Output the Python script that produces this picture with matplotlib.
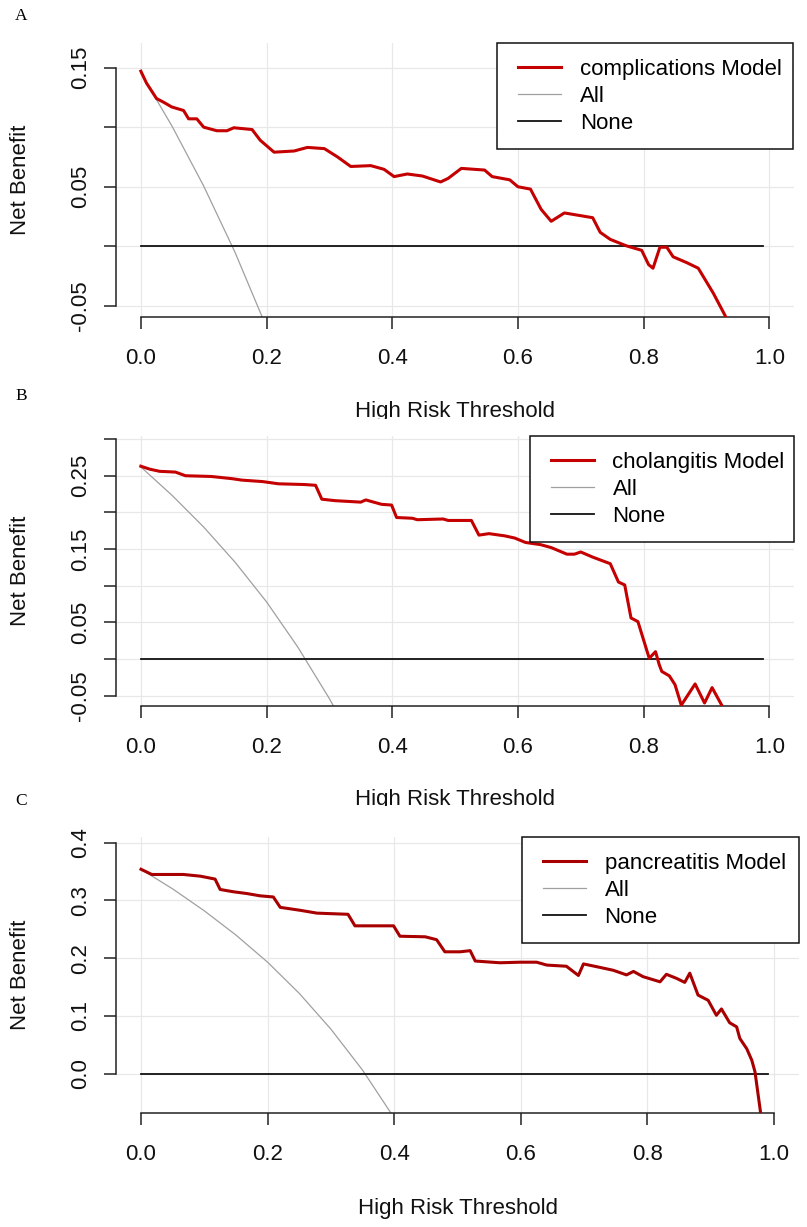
import matplotlib.pyplot as plt
from matplotlib.lines import Line2D
from matplotlib.legend_handler import HandlerLine2D
from matplotlib.transforms import Bbox

plt.rcParams['font.family'] = ['Liberation Sans', 'DejaVu Sans']

# ---- data ----
# A: complications
a_t  = [0.000, 0.009, 0.025, 0.036, 0.049, 0.068, 0.076, 0.089, 0.100, 0.121,
        0.137, 0.148, 0.177, 0.190, 0.212, 0.244, 0.265, 0.292, 0.313, 0.334,
        0.366, 0.387, 0.403, 0.424, 0.448, 0.477, 0.489, 0.510, 0.547, 0.559,
        0.587, 0.600, 0.620, 0.637, 0.653, 0.674, 0.719, 0.731, 0.747, 0.772,
        0.797, 0.808, 0.815, 0.826, 0.837, 0.847, 0.869, 0.887, 0.911, 0.930, 0.936]
a_nb = [0.147, 0.137, 0.124, 0.121, 0.117, 0.114, 0.107, 0.107, 0.100, 0.097,
        0.097, 0.0995, 0.098, 0.089, 0.079, 0.080, 0.083, 0.082, 0.075, 0.067,
        0.0677, 0.0646, 0.0585, 0.0607, 0.059, 0.054, 0.057, 0.0654, 0.064, 0.0585,
        0.0558, 0.050, 0.048, 0.031, 0.021, 0.028, 0.024, 0.0117, 0.0058, 0.0005,
        -0.0034, -0.0154, -0.0184, -0.0008, -0.0008, -0.0088, -0.0138, -0.0184, -0.0394, -0.0584, -0.070]
a_all_t = [0.00, 0.05, 0.10, 0.15, 0.20]
a_all   = [0.1455, 0.1005, 0.0506, -0.0052, -0.068]

# B: cholangitis
b_t  = [0.000, 0.014, 0.030, 0.055, 0.071, 0.112, 0.145, 0.161, 0.194, 0.219,
        0.260, 0.278, 0.288, 0.309, 0.350, 0.358, 0.383, 0.399, 0.407, 0.432,
        0.440, 0.481, 0.489, 0.526, 0.538, 0.554, 0.579, 0.595, 0.612, 0.636,
        0.653, 0.678, 0.690, 0.700, 0.719, 0.747, 0.760, 0.770, 0.780, 0.791,
        0.809, 0.819, 0.825, 0.829, 0.841, 0.850, 0.860, 0.882, 0.897, 0.909, 0.925]
b_nb = [0.263, 0.259, 0.256, 0.255, 0.250, 0.249, 0.246, 0.244, 0.242, 0.239,
        0.238, 0.237, 0.218, 0.216, 0.214, 0.217, 0.211, 0.210, 0.193, 0.192,
        0.190, 0.191, 0.189, 0.189, 0.169, 0.171, 0.168, 0.165, 0.159, 0.156,
        0.152, 0.143, 0.143, 0.146, 0.139, 0.130, 0.105, 0.101, 0.056, 0.051,
        0.001, 0.010, -0.008, -0.017, -0.023, -0.035, -0.063, -0.034, -0.060, -0.039, -0.064]
b_all_t = [0.00, 0.05, 0.10, 0.15, 0.20, 0.25, 0.30, 0.32]
b_all   = [0.262, 0.223, 0.180, 0.132, 0.078, 0.016, -0.054, -0.085]

# C: pancreatitis
c_t  = [0.000, 0.017, 0.067, 0.094, 0.117, 0.125, 0.146, 0.167, 0.188, 0.209,
        0.220, 0.251, 0.278, 0.327, 0.338, 0.399, 0.409, 0.449, 0.467, 0.480,
        0.504, 0.520, 0.528, 0.567, 0.599, 0.625, 0.641, 0.672, 0.691, 0.699,
        0.725, 0.746, 0.767, 0.778, 0.793, 0.820, 0.830, 0.846, 0.859, 0.867,
        0.880, 0.896, 0.909, 0.917, 0.930, 0.941, 0.946, 0.957, 0.965, 0.970,
        0.974, 0.979]
c_nb = [0.354, 0.345, 0.345, 0.342, 0.337, 0.319, 0.315, 0.312, 0.308, 0.306,
        0.288, 0.283, 0.278, 0.276, 0.256, 0.256, 0.238, 0.237, 0.232, 0.211,
        0.211, 0.213, 0.195, 0.192, 0.193, 0.193, 0.188, 0.186, 0.170, 0.190,
        0.184, 0.179, 0.171, 0.177, 0.168, 0.159, 0.172, 0.165, 0.158, 0.174,
        0.136, 0.127, 0.101, 0.112, 0.088, 0.081, 0.061, 0.043, 0.023, 0.003,
        -0.029, -0.069]
c_all_t = [0.00, 0.05, 0.10, 0.15, 0.20, 0.25, 0.30, 0.35, 0.40]
c_all   = [0.354, 0.320, 0.282, 0.240, 0.193, 0.139, 0.077, 0.006, -0.077]

none_t = [0.0, 0.99]
none_nb = [0.0, 0.0]

x_ticks = [0.0, 0.2, 0.4, 0.6, 0.8, 1.0]
x_labels = ['0.0', '0.2', '0.4', '0.6', '0.8', '1.0']

a_yticks = [-0.05, 0.0, 0.05, 0.10, 0.15]
a_ylabels = ['-0.05', '', '0.05', '', '0.15']
b_yticks = [-0.05, 0.0, 0.05, 0.10, 0.15, 0.20, 0.25, 0.30]
b_ylabels = ['-0.05', '', '0.05', '', '0.15', '', '0.25', '']
c_yticks = [0.0, 0.1, 0.2, 0.3, 0.4]
c_ylabels = ['0.0', '0.1', '0.2', '0.3', '0.4']

# ---- layout (pixels, origin top-left) ----
W, H = 807, 1227
fig = plt.figure(figsize=(W / 100, H / 100), dpi=100)


def rect(x0, y0, x1, y1):
    return [x0 / W, 1 - y1 / H, (x1 - x0) / W, (y1 - y0) / H]


def panel(box, ylim, yticks, ylabels, t, nb, t_all, nb_all, red, name,
          leg, letter, letter_y, xlab_y, clip_y):
    ax = fig.add_axes(rect(*box))
    ax.plot(t, nb, color=red, lw=2.2, label=name, zorder=3)
    ax.plot(t_all, nb_all, color='#a0a0a0', lw=0.9, label='All', zorder=2)
    ax.plot(none_t, none_nb, color='#111111', lw=1.3, label='None', zorder=2)
    ax.set_xlim(-0.04, 1.04)
    ax.set_ylim(*ylim)
    ax.set_xticks(x_ticks)
    ax.set_xticklabels(x_labels)
    ax.set_yticks(yticks)
    ax.set_yticklabels(ylabels)
    plt.setp(ax.get_yticklabels(), va='center')
    ax.grid(True, color='#e8e8e8', lw=0.9)
    ax.set_axisbelow(True)
    for s in ['top', 'right']:
        ax.spines[s].set_visible(False)
    ax.spines['left'].set_bounds(yticks[0], yticks[-1])
    ax.spines['bottom'].set_bounds(0, 1)
    for s in ['left', 'bottom']:
        ax.spines[s].set_linewidth(1.1)
        ax.spines[s].set_color('#222222')
    ax.tick_params(direction='out', length=8.6, width=1.1, color='#222222',
                   labelsize=16, labelcolor='#111111')
    ax.tick_params(axis='x', pad=14)
    ax.tick_params(axis='y', pad=9, labelrotation=90)

    lg = ax.legend(loc='upper left', mode='expand', borderaxespad=0,
                   bbox_to_anchor=(leg[0] / W, 1 - leg[2] / H, (leg[1] - leg[0]) / W, 0),
                   bbox_transform=fig.transFigure, fontsize=16, fancybox=False,
                   framealpha=1, edgecolor='#111111', handlelength=2.18,
                   handletextpad=0.85, labelspacing=0.27, borderpad=0.7,
                   handler_map={Line2D: HandlerLine2D(xpad=0.25)})
    lg.get_frame().set_linewidth(1.1)

    cx = (box[0] + box[2]) / 2
    cy = (box[1] + box[3]) / 2
    fig.text(20.5 / W, 1 - cy / H, 'Net Benefit', rotation=90, ha='center',
             va='center', fontsize=16, color='#111111')
    xl = fig.text(cx / W, 1 - xlab_y / H, 'High Risk Threshold', ha='center',
                  va='baseline', fontsize=16, color='#111111')
    if clip_y is not None:
        xl.set_clip_on(True)
        xl.set_clip_box(Bbox.from_extents(0, H - clip_y, W, H))
    fig.text(21 / W, 1 - letter_y / H, letter, ha='center', va='center',
             fontsize=12.5, family='Liberation Serif')
    return ax


panel((115.7, 43.3, 794.4, 316.7), (-0.0591, 0.1704), a_yticks, a_ylabels,
      a_t, a_nb, a_all_t, a_all, '#c40000', 'complications Model',
      (497.3, 793, 43.3), 'A', 16, 416.5, 419)
panel((115.7, 436, 794.4, 706), (-0.0641, 0.3042), b_yticks, b_ylabels,
      b_t, b_nb, b_all_t, b_all, '#c40000', 'cholangitis Model',
      (529.6, 794, 436), 'B', 396, 805.5, 806)
panel((115.7, 837.3, 799.3, 1113), (-0.0683, 0.4094), c_yticks, c_ylabels,
      c_t, c_nb, c_all_t, c_all, '#a80000', 'pancreatitis Model',
      (521.7, 799, 837.3), 'C', 801, 1214, None)

fig.savefig('out.png', dpi=100)
